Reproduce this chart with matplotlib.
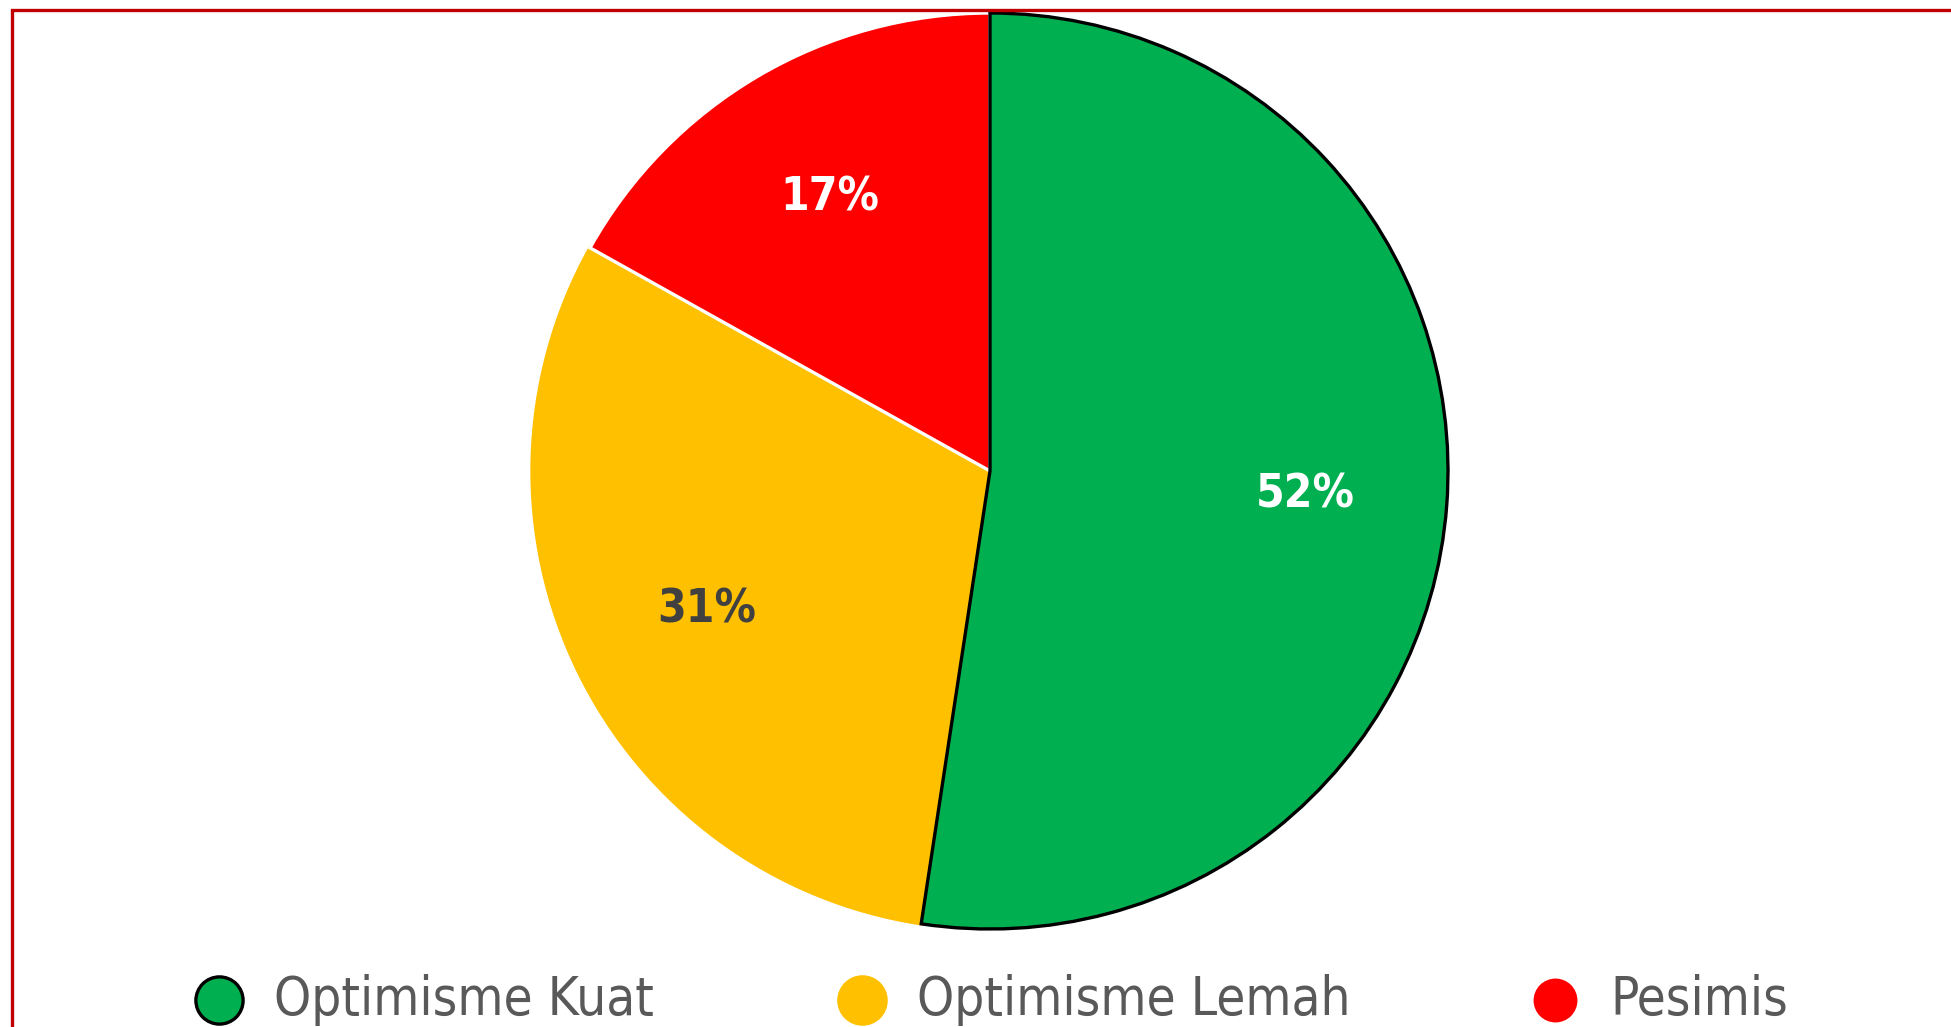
import matplotlib
matplotlib.use("Agg")
import matplotlib.pyplot as plt
from matplotlib.lines import Line2D
from matplotlib.patches import Rectangle

categories = ["Optimisme Kuat", "Optimisme Lemah", "Pesimis"]
values = [52.4, 30.7, 16.9]
colors = ["#00B050", "#FFC000", "#FF0000"]
edge_colors = ["#000000", "#FFC000", "#FFFFFF"]
label_colors = ["#FFFFFF", "#404040", "#FFFFFF"]

W, H = 1951, 1027
fig = plt.figure(figsize=(W / 100, H / 100), dpi=100)
fig.patch.set_facecolor("white")

# outer red frame (partially cropped on right/bottom)
fig.add_artist(Rectangle((12 / W, -0.2), 2.0, 1 - 10 / H + 0.2,
                         transform=fig.transFigure, fill=False,
                         edgecolor="#C00000", linewidth=2.4, clip_on=False))

cx, cy, r = 990, 471, 458
ax = fig.add_axes([(cx - r) / W, (H - cy - r) / H, 2 * r / W, 2 * r / H])
wedges, texts, autotexts = ax.pie(
    values, colors=colors, startangle=90, counterclock=False,
    autopct="%.0f%%", pctdistance=0.69,
    textprops=dict(fontsize=33, fontweight="bold", fontstretch="condensed",
                   family="DejaVu Sans"))
for w, ec in zip(wedges, edge_colors):
    w.set_edgecolor(ec)
    w.set_linewidth(2.4)
wedges[0].set_zorder(5)
for t in autotexts:
    t.set_zorder(6)
for t, c in zip(autotexts, label_colors):
    t.set_color(c)
ax.set_xlim(-1, 1)
ax.set_ylim(-1, 1)
ax.set_aspect("equal")
ax.axis("off")

# legend
marker_x = [219, 862, 1555]
ly = 1 - 1000 / H
for name, col, ec, mx in zip(categories, colors, edge_colors, marker_x):
    fig.add_artist(Line2D([mx / W], [ly], marker="o", markersize=34,
                          markerfacecolor=col, markeredgecolor=ec,
                          markeredgewidth=2.4, linestyle="none",
                          transform=fig.transFigure))
    fig.text((mx + 55) / W, ly, name, fontsize=38, color="#595959",
             va="center", ha="left", fontstretch="condensed",
             family="DejaVu Sans")

fig.savefig("out.png", dpi=100, facecolor="white")
